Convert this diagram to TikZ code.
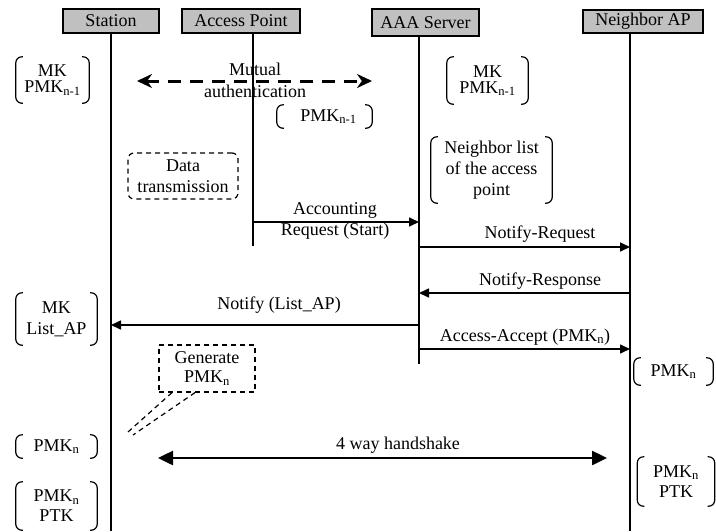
\documentclass[tikz,border=0pt]{standalone}
\usepackage{fontspec}
\setmainfont{Liberation Serif}
\usetikzlibrary{arrows.meta}
\definecolor{hdrgray}{RGB}{192,192,192}
\newcommand\brkpair[1]{%
  \draw[brk] ([xshift=7pt]#1.north west) -- (#1.north west) -- (#1.south west) -- ([xshift=7pt]#1.south west);
  \draw[brk] ([xshift=-7pt]#1.north east) -- (#1.north east) -- (#1.south east) -- ([xshift=-7pt]#1.south east);}
\begin{document}
\begin{tikzpicture}[x=1pt,y=-1pt,
  every node/.style={font=\fontsize{18}{20}\selectfont, inner sep=0pt, align=center},
  hdr/.style={draw, line width=1.5pt, fill=hdrgray},
  life/.style={line width=1.6pt},
  msg/.style={line width=1.6pt, -{Triangle[length=10pt,width=9pt]}},
  brk/.style={line width=1.2pt, rounded corners=6pt},
  note/.style={draw, dashed, line width=1.2pt, dash pattern=on 5pt off 4pt},
  tight/.style={font=\fontsize{18}{16}\selectfont},
  wide/.style={font=\fontsize{18}{21}\selectfont}]
\useasboundingbox (0,0) rectangle (716,531);

% headers
\node[hdr, minimum width=96pt, minimum height=24pt] (st) at (111,21) {Station};
\node[hdr, minimum width=118pt, minimum height=24pt] (ap) at (241,21) {Access Point};
\node[hdr, minimum width=107pt, minimum height=27pt] (aaa) at (425.5,22.5) {AAA Server};
\node[hdr, minimum width=120pt, minimum height=23pt] (nb) at (643,21.5) {Neighbor AP};

% lifeline ends
\coordinate (stE) at (111,531);
\coordinate (apE) at (253,246);
\coordinate (aaaE) at (419,364);
\coordinate (nbE) at (630,531);
\draw[life] (st.south) -- (stE);
\draw[life] ([xshift=12pt]ap.south) -- (apE);
\draw[life] ([xshift=-6.5pt]aaa.south) -- (aaaE);
\draw[life] ([xshift=-13pt]nb.south) -- (nbE);

% message points
\coordinate (mL) at (137,81);
\coordinate (mR) at (372,81);
\coordinate (ap1) at (253,222);
\coordinate (aaa1) at (419,222);
\coordinate (aaa2) at (419,247);
\coordinate (nb2) at (630,247);
\coordinate (nb3) at (630,293);
\coordinate (aaa3) at (419,293);
\coordinate (aaa4) at (419,325);
\coordinate (st4) at (111,325);
\coordinate (aaa5) at (419,349);
\coordinate (nb5) at (630,349);
\coordinate (hL) at (158,458);
\coordinate (hR) at (607,458);

% mutual authentication
\draw[line width=3pt, dash pattern=on 13pt off 9pt,
  {Stealth[length=15pt,width=14pt]}-{Stealth[length=15pt,width=14pt]}] (mL) -- (mR);
\node[font=\fontsize{18}{22}\selectfont] (mut) at (255,80) {Mutual\\authentication};

% brackets
\node[tight, minimum width=73pt, minimum height=46pt] (b1) at (52.5,80) {MK\\PMK\textsubscript{n-1}};
\brkpair{b1}
\node[tight, minimum width=81pt, minimum height=47pt] (b2) at (487.5,80.5) {MK\\PMK\textsubscript{n-1}};
\brkpair{b2}
\node[minimum width=95pt, minimum height=23pt] (b3) at (324.5,116.5) {\hspace*{8pt}PMK\textsubscript{n-1}};
\brkpair{b3}
\node[wide, minimum width=121pt, minimum height=66pt] (b4) at (491.5,170) {Neighbor list\\of the access\\point};
\brkpair{b4}
\node[wide, minimum width=81pt, minimum height=52pt] (b5) at (56.5,319) {MK\\List\_AP};
\brkpair{b5}
\node[minimum width=79pt, minimum height=27pt] (b6) at (673.5,371.5) {PMK\textsubscript{n}};
\brkpair{b6}
\node[minimum width=81pt, minimum height=23pt] (b7) at (56.5,446.5) {PMK\textsubscript{n}};
\brkpair{b7}
\node[minimum width=77pt, minimum height=49pt] (b8) at (676,481.5) {PMK\textsubscript{n}\\PTK};
\brkpair{b8}
\node[minimum width=81pt, minimum height=48pt] (b9) at (56.5,506) {PMK\textsubscript{n}\\PTK};
\brkpair{b9}

% dashed notes
\node[note, rounded corners=6pt, wide, minimum width=110pt, minimum height=46pt] (dt) at (183,176) {Data\\transmission};
\node[note, font=\fontsize{18}{19}\selectfont, minimum width=96pt, minimum height=47pt] (gen) at (207,368.5) {Generate\\PMK\textsubscript{n}};
\coordinate (genTip) at (128,432);
\draw[note] ([xshift=-35pt]gen.south) -- (genTip);
\draw[note] ([xshift=-12pt]gen.south) -- ([shift={(5pt,-3pt)}]genTip);

% messages
\draw[msg] (ap1) -- (aaa1);
\node[wide] (acc) at (335,221) {Accounting\\Request (Start)};
\draw[msg] (aaa2) -- (nb2);
\node (nreq) at (540,234) {Notify-Request};
\draw[msg] (nb3) -- (aaa3);
\node (nres) at (540,281) {Notify-Response};
\draw[msg] (aaa4) -- (st4);
\node (nl) at (279,305) {Notify (List\_AP)};
\draw[msg] (aaa5) -- (nb5);
\node (aa) at (525,337) {Access-Accept (PMK\textsubscript{n})};

% 4 way handshake
\draw[line width=2.5pt, {Triangle[length=15pt,width=14pt]}-{Triangle[length=15pt,width=14pt]}] (hL) -- (hR);
\node (hs) at (398,445) {4 way handshake};
\end{tikzpicture}
\end{document}
